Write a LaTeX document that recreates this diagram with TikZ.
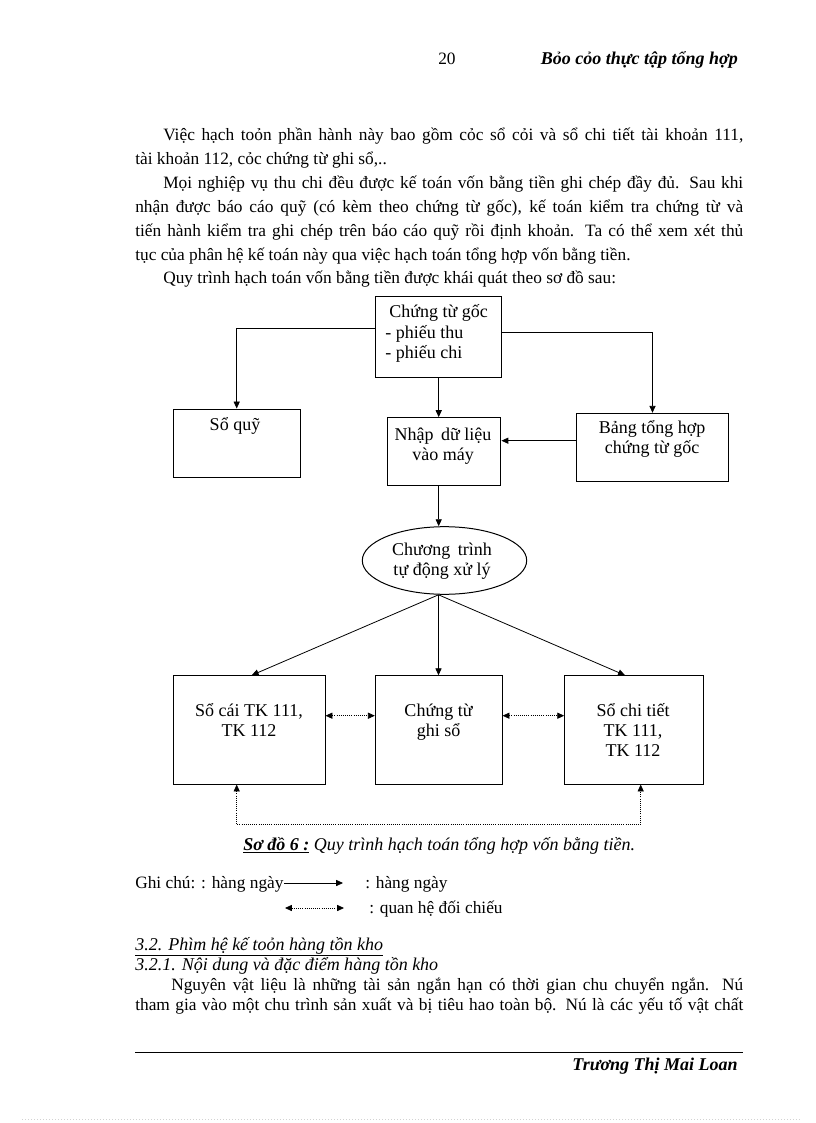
\documentclass[tikz,border=0pt]{standalone}
\usepackage{fontspec}
\setmainfont{Liberation Serif}
\usetikzlibrary{arrows.meta,calc,shapes.geometric}
\begin{document}
\begin{tikzpicture}[x=0.75pt,y=-0.75pt,
  txt/.style={inner sep=0pt, font=\fontsize{13}{15}\selectfont},
  dtxt/.style={inner sep=0pt, font=\fontsize{13.5}{15}\selectfont},
  wh/.style 2 args={minimum width={#1*0.75pt}, minimum height={#2*0.75pt}},
  box/.style={draw, line width=0.75pt, inner sep=0pt},
  arr/.style={line width=0.6pt, -{Triangle[length=5.2pt,width=4.6pt]}},
  darr/.style={line width=0.6pt, dash pattern=on 0.7pt off 0.9pt, {Triangle[length=5.2pt,width=4.6pt]}-{Triangle[length=5.2pt,width=4.6pt]}},
]
\useasboundingbox (0,0) rectangle (816,1123);
\fill[white] (0,0) rectangle (816,1123);

% header
\node[txt, anchor=base west] (pg) at (438,65) {20};
\node[dtxt, anchor=base east] (hd) at (738,65) {\textbf{\textit{Bỏo cỏo thực tập tổng hợp}}};

% body text
\node[txt, anchor=base west] (b1) at (163,141) {\makebox[435pt][s]{Việc hạch toỏn phần hành này bao gồm cỏc sổ cỏi và sổ chi tiết tài khoản 111,}};
\node[txt, anchor=base west] (b2) at (135,164.8) {tài khoản 112, cỏc chứng từ ghi sổ,..};
\node[txt, anchor=base west] (b3) at (163,188.6) {\makebox[435pt][s]{Mọi nghiệp vụ thu chi đều được kế toán vốn bằng tiền ghi chép đầy đủ. Sau khi}};
\node[txt, anchor=base west] (b4) at (135,212.4) {\makebox[456pt][s]{nhận được báo cáo quỹ (có kèm theo chứng từ gốc), kế toán kiểm tra chứng từ và}};
\node[txt, anchor=base west] (b5) at (135,236.2) {\makebox[456pt][s]{tiến hành kiểm tra ghi chép trên báo cáo quỹ rồi định khoản. Ta có thể xem xét thủ}};
\node[txt, anchor=base west] (b6) at (135,260) {tục của phân hệ kế toán này qua việc hạch toán tổng hợp vốn bằng tiền.};
\node[txt, anchor=base west] (b7) at (163,283.8) {Quy trình hạch toán vốn bằng tiền được khái quát theo sơ đồ sau:};

% boxes
\node[box, wh={126}{81.3}] (ctg) at (438.7,336.7) {};
\node[box, wh={126.7}{68}] (sq) at (236.7,443) {};
\node[box, wh={113.3}{68.3}] (nhap) at (444.3,451.8) {};
\node[box, wh={151.6}{68.4}] (bang) at (652.5,447.5) {};
\node[box, ellipse, wh={164.4}{67.6}] (ell) at (444.5,560.5) {};
\node[box, wh={152}{108.3}] (lb) at (249,729.9) {};
\node[box, wh={126.7}{108.3}] (mb) at (438.7,729.9) {};
\node[box, wh={138.6}{108.3}] (rb) at (634,729.9) {};

% box texts
\node[dtxt, anchor=base west] (c1) at (389,317) {Chứng từ gốc};
\node[dtxt, anchor=base west] (c2) at (385,338) {- phiếu thu};
\node[dtxt, anchor=base west] (c3) at (385,358) {- phiếu chi};
\node[dtxt, anchor=base] (s1) at (235,430) {Sổ quỹ};
\node[dtxt, anchor=base] (n1) at (443,440) {Nhập\, dữ liệu};
\node[dtxt, anchor=base] (n2) at (443,460) {vào máy};
\node[dtxt, anchor=base] (g1t) at (652,433) {Bảng tổng hợp};
\node[dtxt, anchor=base] (g2t) at (652,453) {chứng từ gốc};
\node[dtxt, anchor=base] (e1) at (442,555) {Chương\, trình};
\node[dtxt, anchor=base] (e2) at (442,575) {tự động xử lý};
\node[dtxt, anchor=base] (l1t) at (249,716) {Sổ cái TK 111,};
\node[dtxt, anchor=base] (l2t) at (249,736) {TK 112};
\node[dtxt, anchor=base] (m1t) at (438.5,716) {Chứng từ};
\node[dtxt, anchor=base] (m2t) at (438.5,736) {ghi sổ};
\node[dtxt, anchor=base] (r1t) at (633,716) {Sổ chi tiết};
\node[dtxt, anchor=base] (r2t) at (633,736) {TK 111,};
\node[dtxt, anchor=base] (r3t) at (633,756) {TK 112};

% connectors
\draw[arr] ($(ctg.west)+(0,-8.4)$) -| (sq.north);
\draw[arr] ($(ctg.east)+(0,-4.4)$) -| (bang.north);
\draw[arr] (ctg.south) -- (ctg.south |- nhap.north);
\coordinate (bw) at ($(bang.west)+(0,-6.8)$);
\draw[arr] (bw) -- (bw -| nhap.east);
\draw[arr] (ctg.south |- nhap.south) -- (ctg.south |- ell.north);
\coordinate (eb) at ($(ell.south)+(-6,0)$);
\draw[arr] (eb) -- ($(lb.north)+(2.7,0)$);
\draw[arr] (eb) -- (eb |- mb.north);
\draw[arr] (eb) -- ($(rb.north)+(-9,0)$);
\coordinate (h1) at ($(lb.east)+(0,-14.2)$);
\draw[darr] (h1) -- (h1 -| mb.west);
\coordinate (h2) at ($(mb.east)+(0,-14.2)$);
\draw[darr] (h2) -- (h2 -| rb.west);
\coordinate (lbs) at ($(lb.south)+(-12.3,0)$);
\coordinate (rbs) at ($(rb.south)+(6.7,0)$);
\draw[darr] (lbs) -- ++(0,40.3) -| (rbs);

% caption
\node[dtxt, anchor=base west] (cap) at (243,850) {\underline{\textbf{\textit{Sơ đồ 6 :}}}\textit{ Quy trình hạch toán tổng hợp vốn bằng tiền.}};

% legend
\node[txt, anchor=base west] (gc) at (135,888) {Ghi chú: : hàng ngày};
\coordinate (k1) at (284,883);
\coordinate (k2) at (343,883);
\draw[arr] (k1) -- (k2);
\node[txt, anchor=base west] (gc2) at (365,888) {: hàng ngày};
\coordinate (k3) at (285,908);
\coordinate (k4) at (344,908);
\draw[darr] (k3) -- (k4);
\node[txt, anchor=base west] (gc3) at (369,913) {: quan hệ đối chiếu};

% section
\node[dtxt, anchor=base west] (s32) at (135,950) {\underline{\textit{3.2. Phìm hệ kế toỏn hàng tồn kho}}};
\node[dtxt, anchor=base west] (s321) at (135,970) {\textit{3.2.1. Nội dung và đặc điểm hàng tồn kho}};
\node[txt, anchor=base west] (p1) at (171,990) {\makebox[429pt][s]{Nguyên vật liệu là những tài sản ngắn hạn có thời gian chu chuyển ngắn. Nú}};
\node[txt, anchor=base west] (p2) at (135,1010) {\makebox[456pt][s]{tham gia vào một chu trình sản xuất và bị tiêu hao toàn bộ. Nú là các yếu tố vật chất}};

% footer
\coordinate (f1) at (135,1052);
\coordinate (f2) at (743,1052);
\draw[line width=0.75pt] (f1) -- (f2);
\node[dtxt, anchor=base east] (ft) at (738,1070) {\textbf{\textit{Trương Thị Mai Loan}}};
\coordinate (d1) at (22,1119);
\coordinate (d2) at (800,1119);
\draw[gray!35, line width=0.5pt, dash pattern=on 0.75pt off 1.5pt] (d1) -- (d2);
\end{tikzpicture}
\end{document}
